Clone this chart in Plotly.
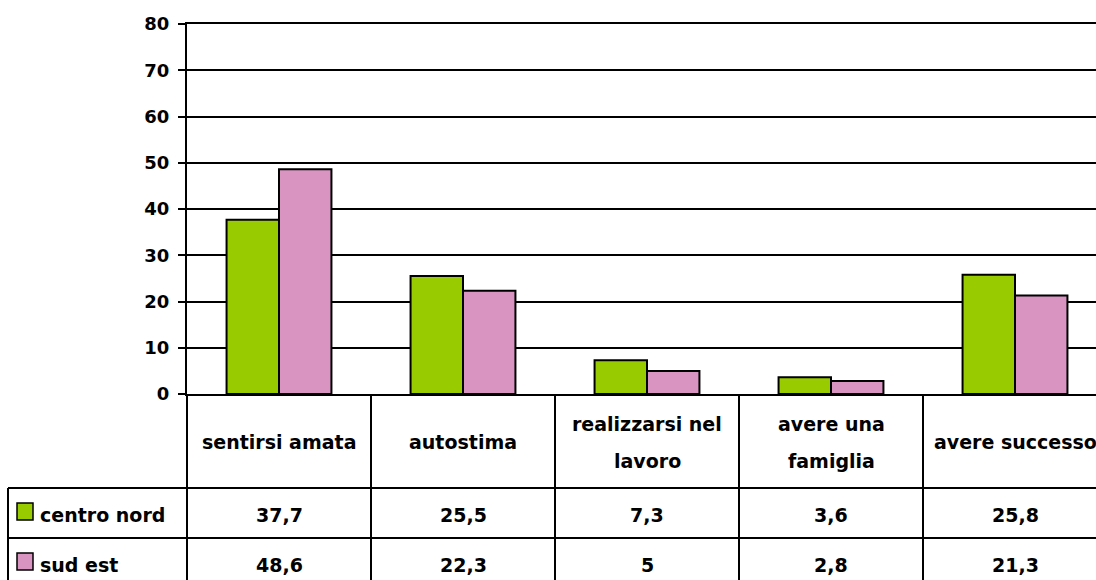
import plotly.graph_objects as go

# ---- data ----
categories = ["sentirsi amata", "autostima", "realizzarsi nel<br>lavoro",
              "avere una<br>famiglia", "avere successo"]
series_names = ["centro nord", "sud est"]
centro_nord = [37.7, 25.5, 7.3, 3.6, 25.8]
sud_est = [48.6, 22.3, 5, 2.8, 21.3]
y_ticks = [0, 10, 20, 30, 40, 50, 60, 70, 80]

colors = ["#99CC00", "#D994C2"]
FONT = "DejaVu Sans, sans-serif"

W, H = 1096, 580
L, T, B = 187, 24, 186
plot_w = W - L
plot_h = H - T - B
cat_px = 184.0
x_range = [-0.5, -0.5 + plot_w / cat_px]
idx = list(range(len(categories)))

def px_x(P):
    return (P - L) / plot_w

def px_y(Y):
    return (H - B - Y) / plot_h

def cat_paper(k):
    return (k - x_range[0]) / (x_range[1] - x_range[0])

fig = go.Figure()
for name, vals, col in zip(series_names, [centro_nord, sud_est], colors):
    fig.add_trace(go.Bar(
        x=idx, y=vals, name=name,
        marker=dict(color=col, line=dict(color="black", width=2)),
        showlegend=False,
    ))

shapes = []
annotations = []
line = dict(color="black", width=2)
Y_AX, Y_H, Y_R1, Y_R2 = 394, 488, 538, 590
for k in range(len(categories)):
    xp = cat_paper(k - 0.5)
    shapes.append(dict(type="line", xref="paper", yref="paper",
                       x0=xp, x1=xp, y0=px_y(Y_AX), y1=px_y(Y_R2), line=line))
shapes.append(dict(type="line", xref="paper", yref="paper",
                   x0=px_x(8), x1=px_x(8), y0=px_y(Y_H), y1=px_y(Y_R2), line=line))
for Y in [Y_H, Y_R1, Y_R2]:
    shapes.append(dict(type="line", xref="paper", yref="paper",
                       x0=px_x(8), x1=1.01, y0=px_y(Y), y1=px_y(Y), line=line))

tfont = dict(family=FONT, size=19, color="black", weight="bold")
for k, lab in enumerate(categories):
    parts = lab.split("<br>")
    ys = [442] if len(parts) == 1 else [424, 461]
    for part, yy in zip(parts, ys):
        annotations.append(dict(x=cat_paper(k), y=px_y(yy), xref="paper", yref="paper",
                                text=part, showarrow=False, xanchor="center", yanchor="middle",
                                font=tfont))

def fmt(v):
    return f"{v:g}".replace(".", ",")

row_mid = [515, 565]
for r, (name, vals, col) in enumerate(zip(series_names, [centro_nord, sud_est], colors)):
    ym = row_mid[r]
    for k, v in enumerate(vals):
        annotations.append(dict(x=cat_paper(k), y=px_y(ym), xref="paper", yref="paper",
                                text=fmt(v), showarrow=False, xanchor="center", yanchor="middle",
                                font=tfont))
    shapes.append(dict(type="rect", xref="paper", yref="paper",
                       x0=px_x(17), x1=px_x(33), y0=px_y(ym - 12), y1=px_y(ym + 5),
                       fillcolor=col, line=dict(color="black", width=1.5)))
    annotations.append(dict(x=px_x(38), y=px_y(ym), xref="paper", yref="paper",
                            text=name, showarrow=False, xanchor="left", yanchor="middle",
                            font=tfont))

fig.update_layout(
    width=W, height=H, autosize=False,
    margin=dict(l=L, r=0, t=T, b=B, pad=0),
    paper_bgcolor="white", plot_bgcolor="white",
    barmode="group", bargap=0.43, bargroupgap=0,
    shapes=shapes, annotations=annotations,
    xaxis=dict(range=x_range, showticklabels=False, ticks="", showgrid=False,
               showline=True, mirror=True, linecolor="black", linewidth=2, zeroline=False,
               fixedrange=True),
    yaxis=dict(range=[0, 80], tickvals=y_ticks, ticktext=[str(t) for t in y_ticks],
               showgrid=True, gridcolor="black", gridwidth=2, zeroline=False,
               showline=True, linecolor="black", linewidth=2,
               ticks="outside", ticklen=7, tickwidth=2, tickcolor="black",
               ticklabelstandoff=5,
               tickfont=dict(family=FONT, size=18, color="black", weight="bold"),
               fixedrange=True),
)

fig.write_html("out.html",
               config={"displayModeBar": False, "staticPlot": True},
               post_script="document.body.style.margin='0';document.body.style.overflow='hidden';")
